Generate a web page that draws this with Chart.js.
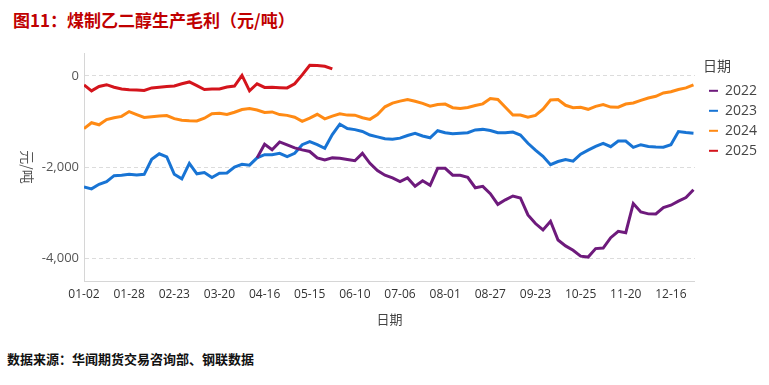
<!DOCTYPE html>
<html>
<head>
<meta charset="utf-8">
<script src="https://cdn.jsdelivr.net/npm/chart.js@4"></script>
<style>
  body { margin:0; background:#fff; width:769px; height:385px; position:relative; overflow:hidden; }
  #title { position:absolute; left:13px; top:7px; font:bold 17px "Noto Sans CJK SC"; color:#c00000; }
  #source { position:absolute; left:7px; top:349px; font:bold 13px "Noto Sans CJK SC"; color:#111; }
  #box { position:absolute; left:0; top:40px; width:769px; height:295px; }
</style>
</head>
<body>
<div id="title">图11：煤制乙二醇生产毛利（元/吨）</div>
<div id="box"><canvas id="chart"></canvas></div>
<div id="source">数据来源：华闻期货交易咨询部、钢联数据</div>
<script>
// x tick labels, one every 6 sample steps
const tickLabels = ['01-02','01-28','02-23','03-20','04-16','05-15','06-10','07-06','08-01','08-27','09-23','10-25','11-20','12-16'];
const seriesNames = ['2022','2023','2024','2025'];
const colors = ['#6e1a7c','#1874d4','#ff8a14','#d4141c'];

// values, one per sample step
const start2022 = 23;
const v2022 = [-1800,-1500,-1620,-1450,-1515,-1580,-1625,-1660,-1800,-1845,-1800,-1810,-1834,-1862,-1700,-1920,
  -2080,-2180,-2240,-2320,-2240,-2420,-2300,-2400,-2030,-2030,-2180,-2180,-2225,-2455,-2425,-2585,-2820,-2720,
  -2636,-2680,-3050,-3240,-3380,-3190,-3600,-3730,-3825,-3955,-3975,-3790,-3777,-3550,-3410,-3440,-2800,-2985,
  -3028,-3030,-2890,-2838,-2750,-2670,-2500];
const v2023 = [-2440,-2480,-2380,-2320,-2190,-2180,-2160,-2175,-2160,-1830,-1710,-1780,-2160,-2260,-1921,-2150,
  -2120,-2230,-2137,-2130,-2000,-1942,-1960,-1800,-1730,-1730,-1700,-1770,-1700,-1510,-1445,-1510,-1590,-1290,
  -1060,-1155,-1180,-1220,-1300,-1340,-1380,-1390,-1367,-1310,-1260,-1320,-1360,-1205,-1250,-1270,-1259,-1248,
  -1187,-1175,-1200,-1250,-1250,-1235,-1300,-1480,-1630,-1765,-1950,-1880,-1834,-1871,-1720,-1630,-1547,-1480,
  -1555,-1430,-1430,-1570,-1511,-1550,-1562,-1566,-1511,-1223,-1245,-1259];
const v2024 = [-1160,-1030,-1075,-960,-920,-890,-785,-850,-912,-899,-883,-871,-940,-975,-985,-990,-930,-830,-820,
  -850,-800,-740,-720,-750,-805,-792,-850,-868,-908,-1000,-930,-845,-945,-885,-835,-862,-863,-920,-955,-850,-680,
  -600,-555,-520,-557,-605,-668,-628,-620,-700,-719,-695,-650,-615,-500,-520,-690,-860,-860,-910,-870,-730,-530,
  -520,-647,-698,-690,-735,-670,-630,-686,-688,-620,-597,-540,-487,-450,-375,-350,-300,-266,-200];
const v2025 = [-200,-330,-235,-195,-250,-288,-308,-309,-322,-266,-250,-237,-222,-175,-135,-215,-300,-290,-290,
  -245,-225,10,-330,-175,-255,-252,-260,-265,-175,20,230,225,210,150];

const yTicks = [-4000, -2000, 0];
const xEnd = 81.2;

function toPoints(vals, offset) {
  return vals.map((v, i) => ({ x: i + offset, y: v }));
}
const allVals = [[v2022, start2022], [v2023, 0], [v2024, 0], [v2025, 0]];

const datasets = seriesNames.map((name, k) => ({
  label: name,
  data: toPoints(allVals[k][0], allVals[k][1]),
  borderColor: colors[k],
  backgroundColor: colors[k],
  borderWidth: 3,
  pointRadius: 0,
  tension: 0
}));

// y title reads top to bottom in the original
const yTitle = {
  id: 'yTitle',
  afterDraw(c) {
    const ctx = c.ctx;
    ctx.save();
    ctx.translate(27, (c.chartArea.top + c.chartArea.bottom) / 2);
    ctx.rotate(Math.PI / 2);
    ctx.font = '14px "Noto Sans CJK SC"';
    ctx.fillStyle = '#555';
    ctx.textAlign = 'center';
    ctx.textBaseline = 'middle';
    ctx.fillText('元/吨', 0, 0);
    ctx.restore();
  }
};

// nudge the legend column a little to the right of the plot
const legendShift = {
  id: 'legendShift',
  afterLayout(c) {
    c.legend.left += 8;
    c.legend.right += 8;
  }
};

new Chart(document.getElementById('chart'), {
  type: 'line',
  data: { datasets },
  plugins: [yTitle, legendShift],
  options: {
    responsive: true,
    maintainAspectRatio: false,
    animation: false,
    layout: { padding: { top: 13, bottom: 8, left: 0, right: 10 } },
    plugins: {
      legend: {
        position: 'right',
        align: 'start',
        title: { display: true, position: 'start', text: '日期', color: '#444', font: { size: 14, family: 'Noto Sans CJK SC' }, padding: { top: 6, bottom: 2 } },
        labels: {
          usePointStyle: true,
          pointStyle: 'line',
          pointStyleWidth: 9,
          boxHeight: 8,
          padding: 6,
          color: '#444',
          font: { size: 14, family: 'Open Sans' },
          generateLabels(c) {
            const items = Chart.defaults.plugins.legend.labels.generateLabels(c);
            items.forEach(it => { it.lineWidth = 2; });
            return items;
          }
        }
      },
      tooltip: { enabled: false }
    },
    scales: {
      x: {
        type: 'linear',
        min: 0,
        max: xEnd,
        afterBuildTicks: ax => { ax.ticks = tickLabels.map((_, i) => ({ value: i * 6 })); },
        ticks: {
          autoSkip: false,
          maxRotation: 0,
          padding: 6,
          color: '#333',
          font: { size: 12, family: 'Open Sans' },
          callback: v => tickLabels[v / 6]
        },
        grid: { display: false, drawTicks: false },
        border: { display: true, color: '#d6d6d6', width: 1 },
        title: { display: true, text: '日期', color: '#444', font: { size: 13, family: 'Noto Sans CJK SC' }, padding: { top: 4, bottom: 0 } }
      },
      y: {
        min: -4500,
        max: 500,
        afterBuildTicks: ax => { ax.ticks = yTicks.map(v => ({ value: v })); },
        afterFit: ax => { ax.width = 84; },
        ticks: {
          padding: 5,
          color: '#555',
          font: { size: 13, family: 'Open Sans' },
          callback: v => v.toLocaleString('en-US')
        },
        grid: { color: '#dcdcdc', drawTicks: false, lineWidth: 1 },
        border: { display: true, color: '#d6d6d6', dash: [4, 3] }
      }
    }
  }
});
</script>
</body>
</html>
